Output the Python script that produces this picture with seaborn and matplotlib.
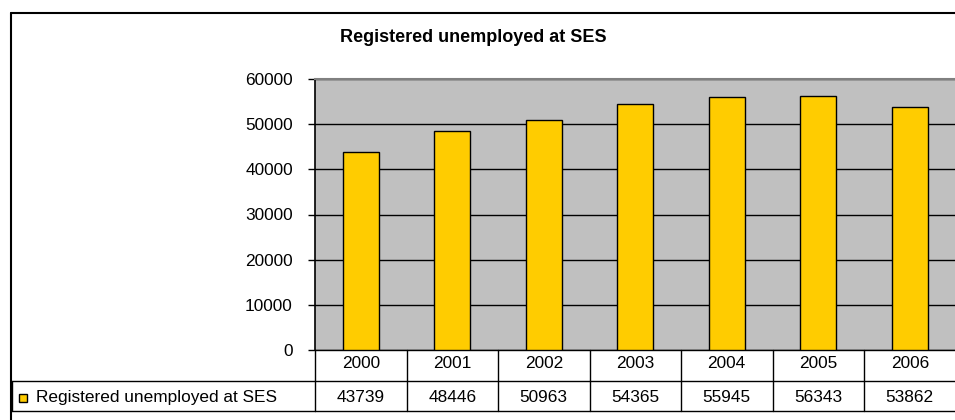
import matplotlib
matplotlib.use("Agg")
import matplotlib.pyplot as plt
import matplotlib.transforms as mtransforms
from matplotlib.lines import Line2D
from matplotlib.patches import Rectangle
import seaborn as sns
import pandas as pd

years = ["2000", "2001", "2002", "2003", "2004", "2005", "2006"]
unemployed = [43739, 48446, 50963, 54365, 55945, 56343, 53862]
series_name = "Registered unemployed at SES"
title = "Registered unemployed at SES"
y_ticks = [0, 10000, 20000, 30000, 40000, 50000, 60000]

sns.set_theme(style="white")
plt.rcParams["font.family"] = ["Liberation Sans", "DejaVu Sans"]

W, H = 955, 420
fig = plt.figure(figsize=(W / 100, H / 100), dpi=100)
fig.patch.set_facecolor("white")

FS = 12.4

def fx(px):
    return px / W

def fy(py):
    return 1 - py / H

# Outer chart frame (left, top edges)
fig.add_artist(Line2D([fx(11), fx(11)], [fy(13), fy(420)], color="black", lw=1.5, transform=fig.transFigure))
fig.add_artist(Line2D([fx(11), fx(955)], [fy(13), fy(13)], color="black", lw=1.5, transform=fig.transFigure))

left, right, top, bottom = 315, 955.5, 79, 350
ax = fig.add_axes([fx(left), fy(bottom), fx(right - left), (bottom - top) / H])

df = pd.DataFrame({"year": years, "value": unemployed})
sns.barplot(data=df, x="year", y="value", color="#FFCC00", width=0.39,
            edgecolor="black", linewidth=1.0, saturation=1, ax=ax, zorder=3)

ax.set_facecolor("#C0C0C0")
ax.set_ylim(0, 60000)
ax.set_xlim(-0.5, len(years) - 0.5)
ax.set_yticks(y_ticks)
ax.set_yticklabels([str(v) for v in y_ticks], fontsize=FS)
ax.set_xticks([])
ax.set_xlabel("")
ax.set_ylabel("")
ax.yaxis.grid(True, color="black", linewidth=1.0, zorder=1)
ax.set_axisbelow(True)
ax.tick_params(axis="y", which="both", left=True, length=5, width=1, color="black", pad=11, labelcolor="black")
for side in ["right", "bottom"]:
    ax.spines[side].set_visible(False)
ax.spines["left"].set_color("black")
ax.spines["left"].set_linewidth(1.2)
ax.spines["top"].set_color("#808080")
ax.spines["top"].set_linewidth(1.5)

fig.text(fx(473.5), fy(38), title, fontsize=13, fontweight="bold", ha="center", va="center", color="black")

# Data table under the plot: year row and value row
trans = mtransforms.blended_transform_factory(ax.transData, fig.transFigure)
row1_top, row1_bot, row2_bot = fy(350), fy(381), fy(411)
n = len(years)
lw = 1.0
for yv in (row1_top, row1_bot, row2_bot):
    ax.add_line(Line2D([-0.5, n - 0.5], [yv, yv], color="black", lw=lw, transform=trans, clip_on=False))
for i in range(n + 1):
    ax.add_line(Line2D([i - 0.5, i - 0.5], [row1_top, row2_bot], color="black", lw=lw, transform=trans, clip_on=False))
for i, (yr, val) in enumerate(zip(years, unemployed)):
    ax.text(i, fy(364), yr, transform=trans, ha="center", va="center", fontsize=FS, color="black")
    ax.text(i, fy(397.5), str(val), transform=trans, ha="center", va="center", fontsize=FS, color="black")

# Legend cell of the table
fig.add_artist(Line2D([fx(12), fx(left)], [row1_bot, row1_bot], color="black", lw=lw, transform=fig.transFigure))
fig.add_artist(Line2D([fx(12), fx(left)], [row2_bot, row2_bot], color="black", lw=lw, transform=fig.transFigure))
fig.add_artist(Line2D([fx(12), fx(12)], [row1_bot, row2_bot], color="black", lw=lw, transform=fig.transFigure))
fig.add_artist(Rectangle((fx(19), fy(402)), fx(8), 8 / H, facecolor="#FFCC00", edgecolor="black",
                         lw=1.0, transform=fig.transFigure))
fig.text(fx(36), fy(397.5), series_name, ha="left", va="center", fontsize=FS, color="black")

fig.savefig("out.png", dpi=100)
